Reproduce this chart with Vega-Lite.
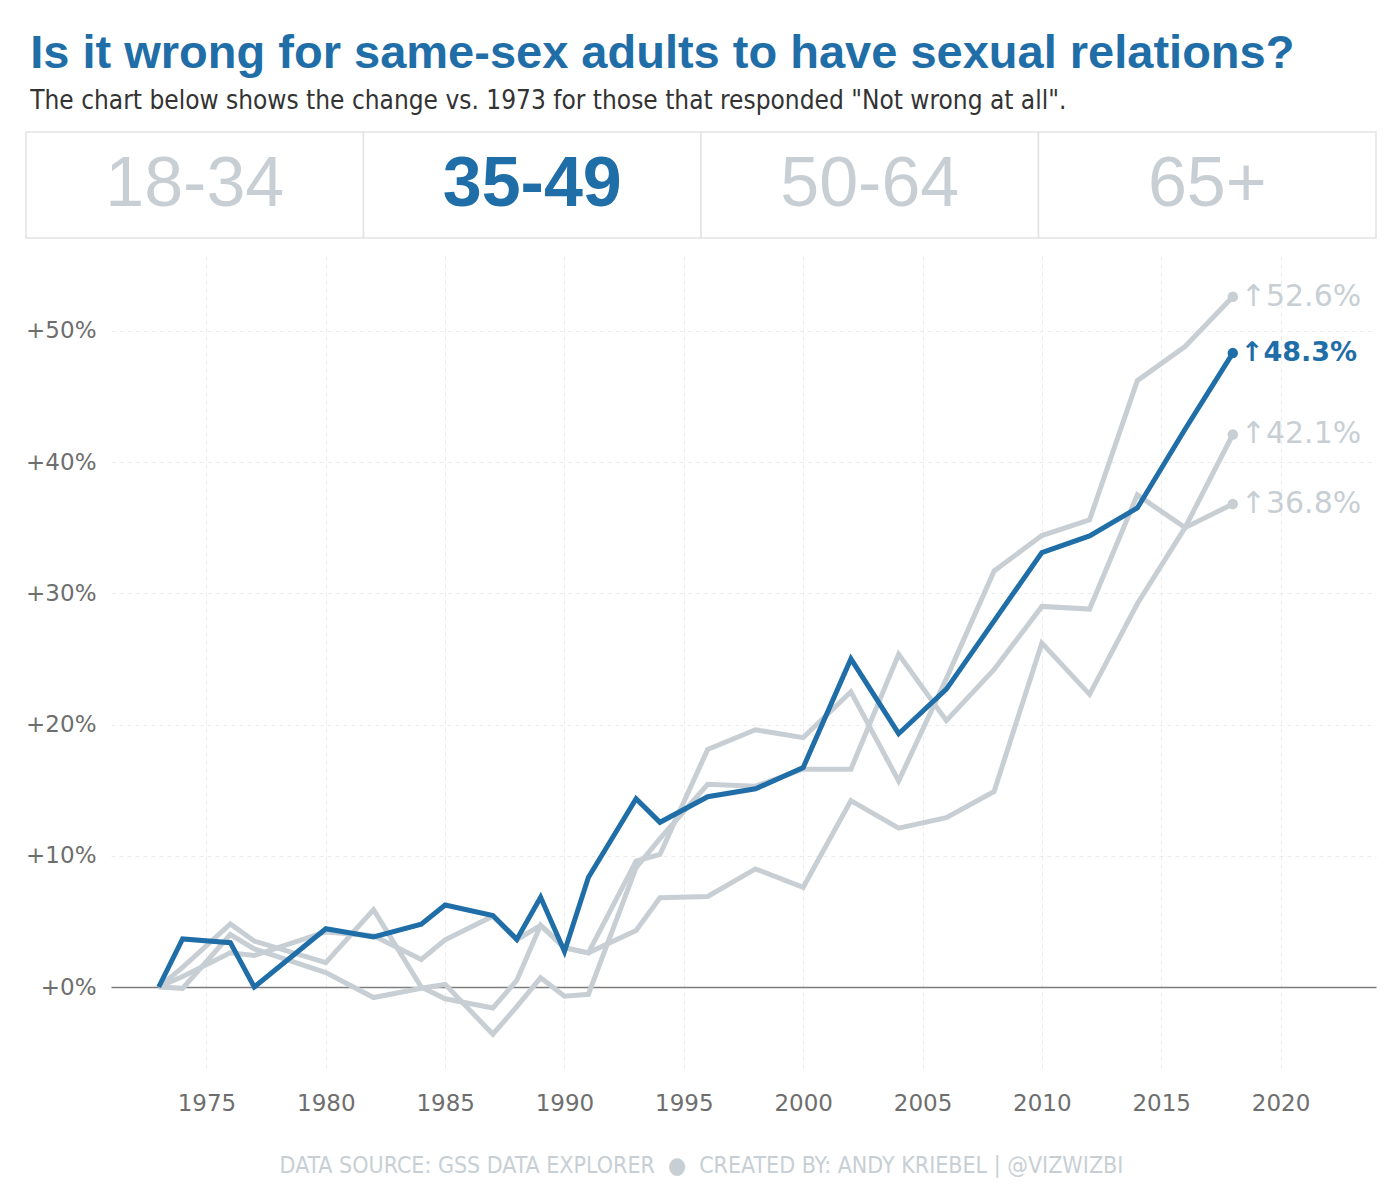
{
  "$schema": "https://vega.github.io/schema/vega-lite/v6.json",
  "padding": {"left": 25, "right": 25, "top": 30, "bottom": 20},
  "title": {
    "text": "Is it wrong for same-sex adults to have sexual relations?",
    "subtitle": "The chart below shows the change vs. 1973 for those that responded \"Not wrong at all\".",
    "anchor": "start",
    "dx": 5,
    "font": "Liberation Sans",
    "fontSize": 47,
    "fontWeight": "bold",
    "color": "#1f6ea8",
    "subtitleFont": "DejaVu Sans Condensed",
    "subtitleFontSize": 26,
    "subtitleColor": "#333333",
    "subtitlePadding": 10,
    "offset": 16
  },
  "datasets": {
    "groups": [
      {"group": "18-34"}, {"group": "35-49"}, {"group": "50-64"}, {"group": "65+"}
    ],
    "series": [
      {"group": "35-49", "year": 1973, "value": 0},
      {"group": "35-49", "year": 1974, "value": 3.66},
      {"group": "35-49", "year": 1976, "value": 3.38},
      {"group": "35-49", "year": 1977, "value": 0},
      {"group": "35-49", "year": 1980, "value": 4.44},
      {"group": "35-49", "year": 1982, "value": 3.81},
      {"group": "35-49", "year": 1984, "value": 4.78},
      {"group": "35-49", "year": 1985, "value": 6.25},
      {"group": "35-49", "year": 1987, "value": 5.45},
      {"group": "35-49", "year": 1988, "value": 3.63},
      {"group": "35-49", "year": 1989, "value": 6.84},
      {"group": "35-49", "year": 1990, "value": 2.7},
      {"group": "35-49", "year": 1991, "value": 8.35},
      {"group": "35-49", "year": 1993, "value": 14.35},
      {"group": "35-49", "year": 1994, "value": 12.55},
      {"group": "35-49", "year": 1996, "value": 14.5},
      {"group": "35-49", "year": 1998, "value": 15.1},
      {"group": "35-49", "year": 2000, "value": 16.72},
      {"group": "35-49", "year": 2002, "value": 25.0},
      {"group": "35-49", "year": 2004, "value": 19.3},
      {"group": "35-49", "year": 2006, "value": 22.7},
      {"group": "35-49", "year": 2008, "value": 27.9},
      {"group": "35-49", "year": 2010, "value": 33.1},
      {"group": "35-49", "year": 2012, "value": 34.37},
      {"group": "35-49", "year": 2014, "value": 36.5},
      {"group": "35-49", "year": 2016, "value": 42.5},
      {"group": "35-49", "year": 2018, "value": 48.3},

      {"group": "18-34", "year": 1973, "value": 0},
      {"group": "18-34", "year": 1974, "value": 1.5},
      {"group": "18-34", "year": 1976, "value": 4.8},
      {"group": "18-34", "year": 1977, "value": 3.5},
      {"group": "18-34", "year": 1980, "value": 1.85},
      {"group": "18-34", "year": 1982, "value": 5.9},
      {"group": "18-34", "year": 1984, "value": 0.0},
      {"group": "18-34", "year": 1985, "value": -0.9},
      {"group": "18-34", "year": 1987, "value": -1.6},
      {"group": "18-34", "year": 1988, "value": 0.5},
      {"group": "18-34", "year": 1989, "value": 4.7},
      {"group": "18-34", "year": 1990, "value": 3.0},
      {"group": "18-34", "year": 1991, "value": 2.6},
      {"group": "18-34", "year": 1993, "value": 9.6},
      {"group": "18-34", "year": 1994, "value": 10.1},
      {"group": "18-34", "year": 1996, "value": 18.1},
      {"group": "18-34", "year": 1998, "value": 19.6},
      {"group": "18-34", "year": 2000, "value": 19.0},
      {"group": "18-34", "year": 2002, "value": 22.5},
      {"group": "18-34", "year": 2004, "value": 15.7},
      {"group": "18-34", "year": 2006, "value": 23.5},
      {"group": "18-34", "year": 2008, "value": 31.7},
      {"group": "18-34", "year": 2010, "value": 34.4},
      {"group": "18-34", "year": 2012, "value": 35.6},
      {"group": "18-34", "year": 2014, "value": 46.2},
      {"group": "18-34", "year": 2016, "value": 48.8},
      {"group": "18-34", "year": 2018, "value": 52.6},

      {"group": "50-64", "year": 1973, "value": 0},
      {"group": "50-64", "year": 1974, "value": 0.8},
      {"group": "50-64", "year": 1976, "value": 2.6},
      {"group": "50-64", "year": 1977, "value": 2.4},
      {"group": "50-64", "year": 1980, "value": 4.2},
      {"group": "50-64", "year": 1982, "value": 3.9},
      {"group": "50-64", "year": 1984, "value": 2.1},
      {"group": "50-64", "year": 1985, "value": 3.6},
      {"group": "50-64", "year": 1987, "value": 5.4},
      {"group": "50-64", "year": 1988, "value": 3.6},
      {"group": "50-64", "year": 1989, "value": 4.7},
      {"group": "50-64", "year": 1990, "value": 3.0},
      {"group": "50-64", "year": 1991, "value": 2.6},
      {"group": "50-64", "year": 1993, "value": 4.3},
      {"group": "50-64", "year": 1994, "value": 6.8},
      {"group": "50-64", "year": 1996, "value": 6.9},
      {"group": "50-64", "year": 1998, "value": 9.0},
      {"group": "50-64", "year": 2000, "value": 7.6},
      {"group": "50-64", "year": 2002, "value": 14.2},
      {"group": "50-64", "year": 2004, "value": 12.1},
      {"group": "50-64", "year": 2006, "value": 12.9},
      {"group": "50-64", "year": 2008, "value": 14.9},
      {"group": "50-64", "year": 2010, "value": 26.2},
      {"group": "50-64", "year": 2012, "value": 22.3},
      {"group": "50-64", "year": 2014, "value": 29.2},
      {"group": "50-64", "year": 2016, "value": 35.0},
      {"group": "50-64", "year": 2018, "value": 42.1},

      {"group": "65+", "year": 1973, "value": 0},
      {"group": "65+", "year": 1974, "value": -0.1},
      {"group": "65+", "year": 1976, "value": 4.0},
      {"group": "65+", "year": 1977, "value": 2.9},
      {"group": "65+", "year": 1980, "value": 1.1},
      {"group": "65+", "year": 1982, "value": -0.8},
      {"group": "65+", "year": 1984, "value": -0.1},
      {"group": "65+", "year": 1985, "value": 0.2},
      {"group": "65+", "year": 1987, "value": -3.6},
      {"group": "65+", "year": 1988, "value": -1.5},
      {"group": "65+", "year": 1989, "value": 0.7},
      {"group": "65+", "year": 1990, "value": -0.7},
      {"group": "65+", "year": 1991, "value": -0.56},
      {"group": "65+", "year": 1993, "value": 9.1},
      {"group": "65+", "year": 1994, "value": 11.3},
      {"group": "65+", "year": 1996, "value": 15.45},
      {"group": "65+", "year": 1998, "value": 15.3},
      {"group": "65+", "year": 2000, "value": 16.6},
      {"group": "65+", "year": 2002, "value": 16.6},
      {"group": "65+", "year": 2004, "value": 25.35},
      {"group": "65+", "year": 2006, "value": 20.3},
      {"group": "65+", "year": 2008, "value": 24.2},
      {"group": "65+", "year": 2010, "value": 29.0},
      {"group": "65+", "year": 2012, "value": 28.8},
      {"group": "65+", "year": 2014, "value": 37.5},
      {"group": "65+", "year": 2016, "value": 35.0},
      {"group": "65+", "year": 2018, "value": 36.8}
    ]
  },
  "spacing": 17,
  "vconcat": [
    {
      "width": 1350,
      "height": 106,
      "data": {"name": "groups"},
      "encoding": {
        "x": {"field": "group", "type": "nominal", "sort": null, "scale": {"paddingInner": 0, "paddingOuter": 0}, "axis": null}
      },
      "layer": [
        {
          "mark": {"type": "rect", "fill": "#ffffff", "stroke": "#e3e3e3", "strokeWidth": 1.5}
        },
        {
          "transform": [{"filter": "datum.group !== '35-49'"}],
          "mark": {"type": "text", "font": "Liberation Sans", "fontSize": 70, "color": "#c8cfd4", "baseline": "middle", "align": "center"},
          "encoding": {"text": {"field": "group"}}
        },
        {
          "transform": [{"filter": "datum.group === '35-49'"}],
          "mark": {"type": "text", "font": "Liberation Sans", "fontSize": 70, "fontWeight": "bold", "color": "#1f6ea8", "baseline": "middle", "align": "center"},
          "encoding": {"text": {"field": "group"}}
        }
      ]
    },
    {
      "width": 1350,
      "height": 815,
      "data": {"name": "series"},
      "encoding": {
        "x": {
          "field": "year", "type": "quantitative",
          "scale": {"domain": [1971, 2024], "range": [85, 1350], "nice": false, "zero": false},
          "axis": {
            "values": [1975, 1980, 1985, 1990, 1995, 2000, 2005, 2010, 2015, 2020],
            "format": "d",
            "grid": true,
            "domain": false,
            "ticks": false,
            "labelPadding": 21,
            "labelFlush": false,
            "labelOverlap": false,
            "title": "DATA SOURCE: GSS DATA EXPLORER\u00a0\u00a0●\u00a0\u00a0CREATED BY: ANDY KRIEBEL | @VIZWIZBI",
            "titleFont": "DejaVu Sans Condensed",
            "titleFontSize": 23,
            "titleFontWeight": "normal",
            "titleColor": "#c8cfd4",
            "titleX": 675,
            "titleY": 101,
            "titleAlign": "center",
            "titleBaseline": "alphabetic"
          }
        },
        "y": {
          "field": "value", "type": "quantitative",
          "scale": {"domain": [-6.4, 55.7], "nice": false, "zero": false},
          "axis": {
            "values": [0, 10, 20, 30, 40, 50],
            "labelExpr": "'+' + datum.value + '%'",
            "title": null,
            "grid": true,
            "gridColor": {"condition": {"test": "datum.value === 0", "value": "#7d7d7d"}, "value": "#ececec"},
            "gridDash": {"condition": {"test": "datum.value === 0", "value": []}, "value": [4, 4]},
            "gridWidth": {"condition": {"test": "datum.value === 0", "value": 1.5}, "value": 1},
            "domain": false,
            "ticks": false,
            "offset": -85,
            "labelPadding": 15,
            "minExtent": 0,
            "maxExtent": 0
          }
        }
      },
      "layer": [
        {
          "transform": [{"filter": "datum.group !== '35-49'"}],
          "mark": {"type": "line", "strokeWidth": 5, "color": "#c8cfd4"},
          "encoding": {"detail": {"field": "group"}}
        },
        {
          "transform": [{"filter": "datum.group === '35-49'"}],
          "mark": {"type": "line", "strokeWidth": 5, "color": "#1f6ea8"}
        },
        {
          "transform": [{"filter": "datum.year === 2018"}],
          "mark": {"type": "circle", "size": 110, "opacity": 1},
          "encoding": {
            "color": {"condition": {"test": "datum.group === '35-49'", "value": "#1f6ea8"}, "value": "#c8cfd4"}
          }
        },
        {
          "transform": [
            {"filter": "datum.year === 2018 && datum.group !== '35-49'"},
            {"calculate": "'↑' + format(datum.value, '.1f') + '%'", "as": "label"}
          ],
          "mark": {"type": "text", "align": "left", "baseline": "middle", "dx": 8, "font": "DejaVu Sans", "fontSize": 30, "color": "#c8cfd4"},
          "encoding": {"text": {"field": "label"}}
        },
        {
          "transform": [
            {"filter": "datum.year === 2018 && datum.group === '35-49'"},
            {"calculate": "'↑' + format(datum.value, '.1f') + '%'", "as": "label"}
          ],
          "mark": {"type": "text", "align": "left", "baseline": "middle", "dx": 8, "font": "DejaVu Sans", "fontSize": 27, "fontWeight": "bold", "color": "#1f6ea8"},
          "encoding": {"text": {"field": "label"}}
        }
      ]
    }
  ],
  "config": {
    "view": {"stroke": null},
    "axis": {
      "labelFont": "DejaVu Sans",
      "labelFontSize": 23,
      "labelColor": "#6e6e6e",
      "gridColor": "#ececec",
      "gridDash": [4, 4],
      "gridWidth": 1
    }
  }
}
